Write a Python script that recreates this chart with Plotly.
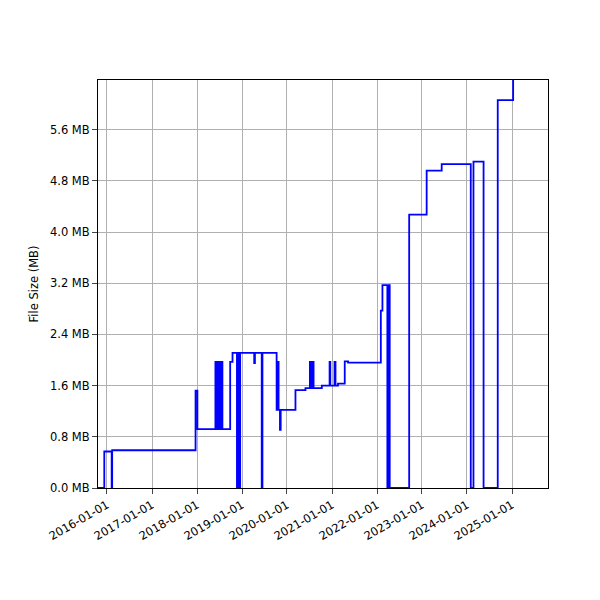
import plotly.graph_objects as go

dates = ["2015-10-10","2015-12-10","2016-02-08","2016-02-12","2017-12-20","2018-01-04",
"2018-05-30","2018-06-06","2018-06-12","2018-06-18","2018-06-24","2018-07-02","2018-07-08","2018-07-14","2018-07-20","2018-07-26",
"2018-09-27","2018-10-16","2018-11-21","2018-12-01","2018-12-10","2018-12-17","2019-04-10","2019-04-16","2019-06-10","2019-06-16",
"2019-10-09","2019-10-17","2019-10-25","2019-11-05","2019-11-11","2020-03-10","2020-05-30","2020-07-05","2020-07-13","2020-07-21","2020-08-04",
"2020-10-10","2020-12-12","2020-12-18","2021-01-21","2021-01-29","2021-02-18","2021-04-14","2021-05-11",
"2022-02-01","2022-02-14","2022-03-26","2022-04-04","2022-04-14","2022-09-19","2023-02-08","2023-06-10",
"2024-02-01","2024-02-23","2024-05-15","2024-09-07","2025-01-10","2025-10-20"]
sizes_mb = [0,0.57,0,0.59,1.52,0.92,
1.97,0.92,1.97,0.92,1.97,0.92,1.97,0.92,1.97,0.92,
1.97,2.11,0,2.11,0,2.11,1.95,2.11,0,2.11,
1.22,1.97,1.22,0.91,1.22,1.53,1.56,1.97,1.56,1.97,1.56,
1.60,1.97,1.60,1.97,1.60,1.63,1.98,1.96,
2.77,3.17,0,3.17,0,4.27,4.96,5.06,
0,5.10,0,6.06,6.6,6.6]
tick_dates = [f"{y}-01-01" for y in range(2016, 2026)]
y_ticks = [0.0,0.8,1.6,2.4,3.2,4.0,4.8,5.6]

fig = go.Figure(go.Scatter(x=dates, y=sizes_mb, mode="lines", line=dict(color="blue", width=1.8, shape="hv")))
ax = dict(showline=True, linecolor="black", mirror=True, ticks="outside", showgrid=True, automargin=False,
          gridcolor="#b0b0b0", zeroline=False, tickfont=dict(size=11.5, color="black"))
fig.update_layout(
    width=600, height=600, plot_bgcolor="white", paper_bgcolor="white",
    margin=dict(l=90, r=60, t=72, b=120), showlegend=False,
    font=dict(family="DejaVu Sans", size=11.5, color="black"),
    xaxis=dict(ax, range=["2015-10-20", "2025-10-20"], tickvals=tick_dates, ticktext=tick_dates, tickangle=-30),
    yaxis=dict(ax, range=[0, 6.375], tickvals=y_ticks, ticktext=[f"{v:.1f} MB" for v in y_ticks],
               title=dict(text="File Size (MB)", font=dict(size=11.5), standoff=8)),
)
fig.write_html("out.html")
